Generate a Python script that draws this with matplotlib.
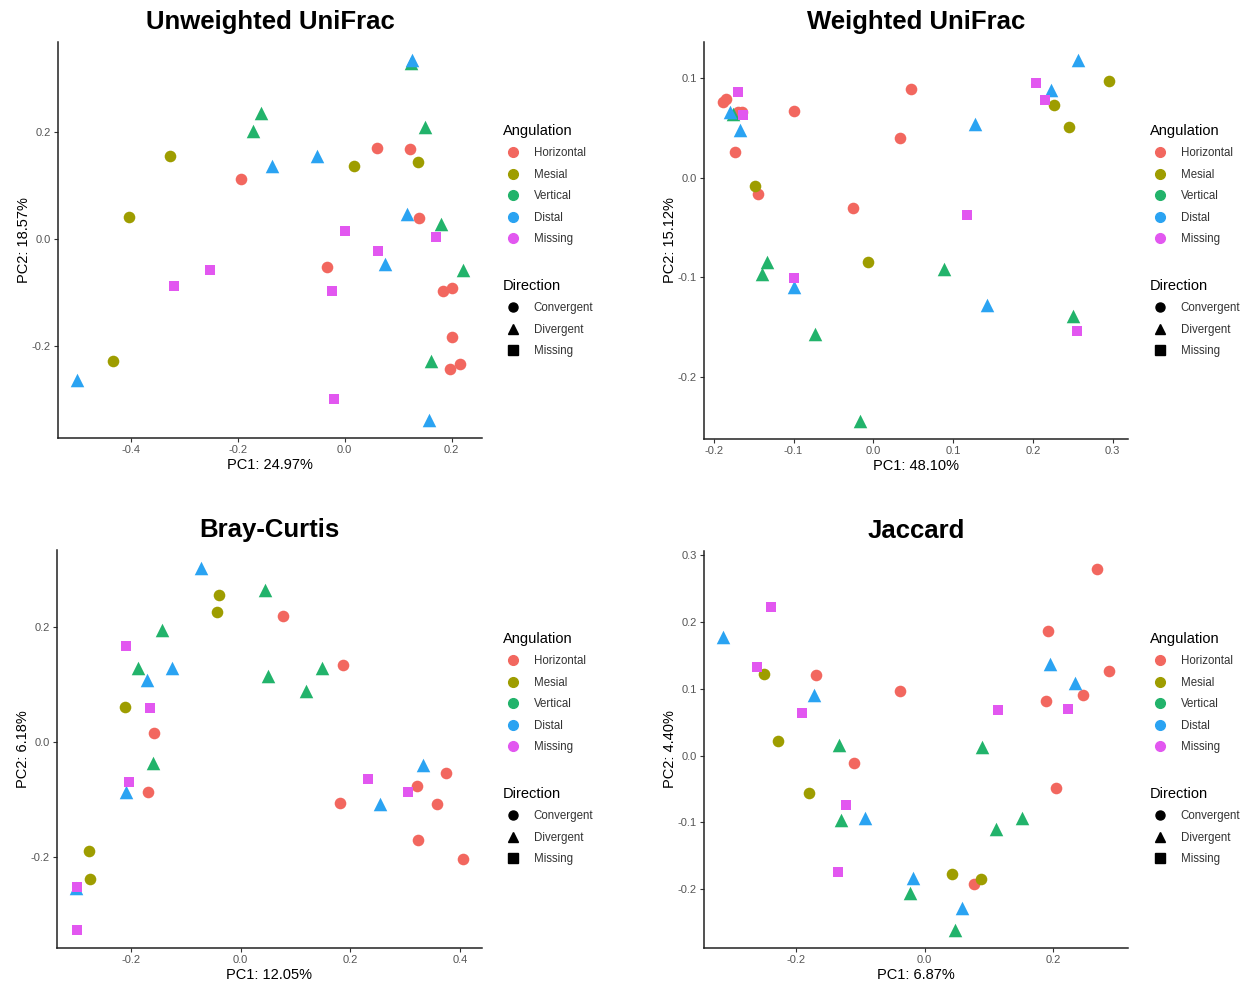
import matplotlib
matplotlib.use("Agg")
import matplotlib.pyplot as plt
from matplotlib.lines import Line2D
from matplotlib.ticker import MultipleLocator, FormatStrFormatter

plt.rcParams['font.family'] = ['Liberation Sans', 'DejaVu Sans']
plt.rcParams['axes.unicode_minus'] = False

# sample groups (same order in every panel)
angulation = (['Horizontal'] * 10 + ['Mesial'] * 5 + ['Vertical'] * 7
              + ['Distal'] * 7 + ['Missing'] * 7)
direction = ['Convergent'] * 15 + ['Divergent'] * 14 + ['Missing'] * 7

ang_levels = ['Horizontal', 'Mesial', 'Vertical', 'Distal', 'Missing']
dir_levels = ['Convergent', 'Divergent', 'Missing']
ang_colors = ['#F2675F', '#9E9D00', '#22B36B', '#2AA3F2', '#E257F0']
dir_markers = ['o', '^', 's']

# Unweighted UniFrac
unw_x = [-0.194, 0.060, 0.122, 0.140, -0.033, 0.185, 0.201, 0.200, 0.198, 0.215,
         -0.327, -0.404, -0.433, 0.017, 0.137,
         -0.157, -0.171, 0.125, 0.151, 0.181, 0.221, 0.162,
         0.126, -0.135, -0.051, 0.116, 0.075, -0.500, 0.157,
         0.001, 0.062, 0.171, -0.251, -0.319, -0.023, -0.020]
unw_y = [0.113, 0.170, 0.168, 0.039, -0.052, -0.097, -0.092, -0.182, -0.242, -0.234,
         0.155, 0.042, -0.227, 0.137, 0.144,
         0.235, 0.202, 0.329, 0.209, 0.028, -0.058, -0.227,
         0.335, 0.136, 0.155, 0.048, -0.046, -0.264, -0.338,
         0.015, -0.022, 0.005, -0.058, -0.087, -0.096, -0.299]

# Weighted UniFrac
wu_x = [-0.188, -0.184, -0.165, -0.173, -0.099, 0.047, 0.034, -0.145, -0.026, -0.170,
        -0.148, -0.007, 0.295, 0.226, 0.245,
        -0.176, -0.133, -0.140, -0.073, -0.017, 0.089, 0.250,
        -0.180, -0.167, -0.100, 0.127, 0.143, 0.223, 0.256,
        -0.170, -0.163, -0.099, 0.118, 0.204, 0.215, 0.255]
wu_y = [0.076, 0.079, 0.066, 0.026, 0.067, 0.089, 0.040, -0.016, -0.030, 0.066,
        -0.008, -0.085, 0.097, 0.073, 0.051,
        0.064, -0.085, -0.097, -0.157, -0.244, -0.092, -0.139,
        0.066, 0.048, -0.110, 0.054, -0.128, 0.088, 0.118,
        0.086, 0.063, -0.101, -0.037, 0.095, 0.078, -0.154]

# Bray-Curtis
bc_x = [0.078, 0.186, -0.159, -0.170, 0.181, 0.321, 0.374, 0.358, 0.324, 0.405,
        -0.040, -0.044, -0.211, -0.277, -0.275,
        0.045, -0.144, -0.188, 0.049, 0.149, 0.119, -0.160,
        -0.072, -0.126, -0.171, -0.209, 0.332, 0.254, -0.300,
        -0.209, -0.165, -0.204, 0.232, 0.305, -0.298, -0.298]
bc_y = [0.218, 0.133, 0.016, -0.088, -0.106, -0.076, -0.054, -0.108, -0.171, -0.204,
        0.256, 0.225, 0.061, -0.190, -0.239,
        0.264, 0.194, 0.128, 0.115, 0.129, 0.088, -0.036,
        0.302, 0.129, 0.107, -0.087, -0.040, -0.108, -0.254,
        0.167, 0.058, -0.070, -0.065, -0.087, -0.253, -0.327]

# Jaccard
jac_x = [0.268, 0.193, 0.287, 0.247, 0.189, -0.170, -0.038, -0.110, 0.205, 0.077,
         -0.251, -0.229, -0.181, 0.043, 0.088,
         -0.134, -0.131, -0.023, 0.047, 0.090, 0.111, 0.151,
         -0.314, -0.172, -0.093, -0.018, 0.059, 0.195, 0.235,
         -0.239, -0.262, -0.192, -0.122, -0.135, 0.115, 0.224]
jac_y = [0.279, 0.186, 0.126, 0.090, 0.082, 0.120, 0.096, -0.011, -0.049, -0.192,
         0.122, 0.022, -0.056, -0.178, -0.185,
         0.016, -0.096, -0.206, -0.261, 0.012, -0.110, -0.093,
         0.178, 0.090, -0.093, -0.184, -0.228, 0.137, 0.108,
         0.222, 0.132, 0.064, -0.074, -0.174, 0.068, 0.070]

panels = [
    ('Unweighted UniFrac', unw_x, unw_y, 'PC1: 24.97%', 'PC2: 18.57%', 0.2, 0.2),
    ('Weighted UniFrac', wu_x, wu_y, 'PC1: 48.10%', 'PC2: 15.12%', 0.1, 0.1),
    ('Bray-Curtis', bc_x, bc_y, 'PC1: 12.05%', 'PC2: 6.18%', 0.2, 0.2),
    ('Jaccard', jac_x, jac_y, 'PC1: 6.87%', 'PC2: 4.40%', 0.2, 0.1),
]

W, H = 1241, 985
# axes boxes in pixels: left, right, top, bottom
boxes = [(58, 482, 42, 438), (704, 1128, 42, 439),
         (57, 482, 550, 948), (704, 1128, 551, 948)]
legend_x = [503, 1150, 503, 1150]
legend_top = [124, 124, 632, 632]

fig = plt.figure(figsize=(W / 100, H / 100), dpi=100)

sizes = {'o': 70, '^': 95, 's': 62}

for (title, xs, ys, xl, yl, xstep, ystep), (l, r, t, b), lx, lt in zip(
        panels, boxes, legend_x, legend_top):
    ax = fig.add_axes([l / W, 1 - b / H, (r - l) / W, (b - t) / H])
    for a, col in zip(ang_levels, ang_colors):
        for d, mk in zip(dir_levels, dir_markers):
            idx = [i for i in range(len(xs))
                   if angulation[i] == a and direction[i] == d]
            if not idx:
                continue
            ax.scatter([xs[i] for i in idx], [ys[i] for i in idx],
                       c=col, marker=mk, s=sizes[mk], linewidths=0, zorder=3)
    ax.margins(0.05)
    ax.xaxis.set_major_locator(MultipleLocator(xstep))
    ax.yaxis.set_major_locator(MultipleLocator(ystep))
    ax.xaxis.set_major_formatter(FormatStrFormatter('%.1f'))
    ax.yaxis.set_major_formatter(FormatStrFormatter('%.1f'))
    for s in ['top', 'right']:
        ax.spines[s].set_visible(False)
    for s in ['left', 'bottom']:
        ax.spines[s].set_linewidth(1.1)
        ax.spines[s].set_color('#222222')
    ax.tick_params(length=3, width=0.8, color='#333333', labelsize=8,
                   labelcolor='#555555', pad=2)
    ax.set_xlabel(xl, fontsize=10.5, labelpad=2)
    ax.set_ylabel(yl, fontsize=10.5, labelpad=1)
    ax.set_title(title, fontsize=18.5, fontweight='bold', pad=9)

    ang_handles = [Line2D([], [], marker='o', color=c, linestyle='', markersize=7)
                   for c in ang_colors]
    fig.legend(ang_handles, ang_levels, title='Angulation',
               loc='upper left', bbox_to_anchor=(lx / W, 1 - lt / H),
               frameon=False, fontsize=8.3, title_fontsize=10.5,
               labelcolor='#333333', alignment='left', borderpad=0,
               borderaxespad=0, handlelength=1.8, handletextpad=0.85,
               labelspacing=0.82)
    dir_handles = [Line2D([], [], marker=m, color='black', linestyle='',
                          markersize=6.5) for m in dir_markers]
    fig.legend(dir_handles, dir_levels, title='Direction',
               loc='upper left', bbox_to_anchor=(lx / W, 1 - (lt + 155) / H),
               frameon=False, fontsize=8.3, title_fontsize=10.5,
               labelcolor='#333333', alignment='left', borderpad=0,
               borderaxespad=0, handlelength=1.8, handletextpad=0.85,
               labelspacing=0.82)

fig.savefig('out.png', dpi=100)
